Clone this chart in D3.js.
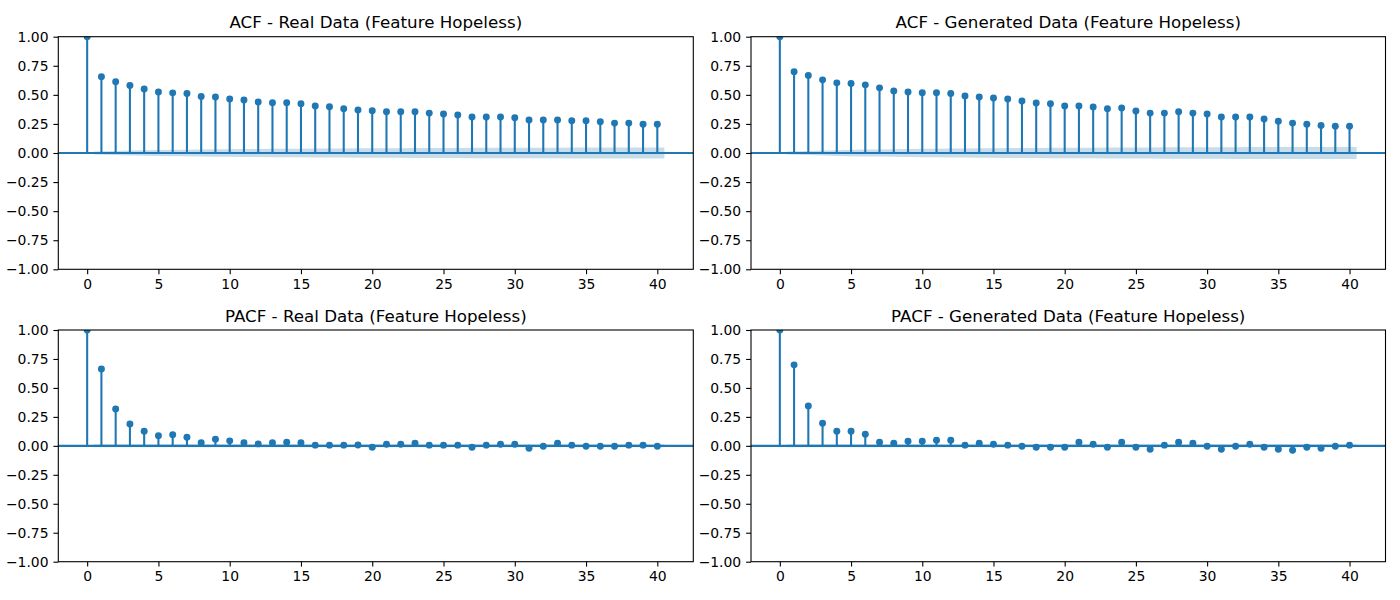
<!DOCTYPE html>
<html>
<head>
<meta charset="utf-8">
<script src="https://cdn.jsdelivr.net/npm/d3@7"></script>
<style>
  body { margin: 0; background: #fff; }
  text { font-family: "DejaVu Sans", sans-serif; }
</style>
</head>
<body>
<script>
// lags 0..40
var lags = d3.range(0, 41);

// values
var acfReal = [1.000, 0.655, 0.612, 0.580, 0.551, 0.525, 0.517, 0.511, 0.485, 0.482,
  0.465, 0.456, 0.439, 0.433, 0.433, 0.424, 0.404, 0.398, 0.381, 0.370,
  0.364, 0.355, 0.355, 0.355, 0.343, 0.335, 0.326, 0.309, 0.309, 0.309,
  0.303, 0.283, 0.283, 0.283, 0.277, 0.277, 0.268, 0.257, 0.257, 0.248, 0.248];

var acfGen = [1.000, 0.699, 0.667, 0.629, 0.603, 0.597, 0.586, 0.560, 0.534, 0.525,
  0.519, 0.519, 0.511, 0.491, 0.482, 0.473, 0.465, 0.447, 0.430, 0.424,
  0.404, 0.404, 0.395, 0.381, 0.387, 0.361, 0.343, 0.343, 0.355, 0.343,
  0.335, 0.309, 0.309, 0.309, 0.292, 0.274, 0.257, 0.248, 0.237, 0.231, 0.231];

var pacfReal = [1.000, 0.664, 0.318, 0.188, 0.127, 0.087, 0.095, 0.075, 0.026, 0.058,
  0.043, 0.026, 0.017, 0.026, 0.032, 0.026, 0.006, 0.006, 0.006, 0.008,
  -0.012, 0.014, 0.014, 0.023, 0.006, 0.006, 0.006, -0.012, 0.006, 0.014,
  0.014, -0.020, -0.003, 0.023, 0.006, -0.003, -0.003, -0.003, 0.006, 0.006, -0.003];

var pacfGen = [1.000, 0.699, 0.344, 0.196, 0.127, 0.127, 0.101, 0.032, 0.023, 0.040,
  0.040, 0.049, 0.049, 0.006, 0.023, 0.014, 0.006, -0.003, -0.012, -0.012,
  -0.012, 0.032, 0.014, -0.012, 0.032, -0.012, -0.029, 0.006, 0.032, 0.023,
  -0.003, -0.029, -0.003, 0.014, -0.012, -0.029, -0.038, -0.012, -0.020, -0.003, 0.006];

var titles = ["ACF - Real Data (Feature Hopeless)", "ACF - Generated Data (Feature Hopeless)",
  "PACF - Real Data (Feature Hopeless)", "PACF - Generated Data (Feature Hopeless)"];

var xTicks = [0, 5, 10, 15, 20, 25, 30, 35, 40];
var yTicks = [-1, -0.75, -0.5, -0.25, 0, 0.25, 0.5, 0.75, 1];

// sample size used for the 95% bands
var nObs = 23000;
var zCrit = 1.96;

// Bartlett band for acf, constant band for pacf
function acfBand(r) {
  var out = [], s = 0;
  for (var k = 1; k < r.length; k++) {
    out.push(zCrit * Math.sqrt((1 + 2 * s) / nObs));
    s += r[k] * r[k];
  }
  return out;
}
function pacfBand(r) {
  return r.slice(1).map(function() { return zCrit * Math.sqrt(1 / nObs); });
}

var C0 = "#1f77b4";

var svg = d3.select("body").append("svg")
  .attr("width", 1400)
  .attr("height", 600)
  .style("background", "#fff");

var panels = [
  { vals: acfReal,  band: acfBand(acfReal),   left: 58.3, right: 693.3,  top: 36.7, bottom: 269.3, title: titles[0] },
  { vals: acfGen,   band: acfBand(acfGen),    left: 751,  right: 1385.5, top: 36.7, bottom: 269.3, title: titles[1] },
  { vals: pacfReal, band: pacfBand(pacfReal), left: 58.3, right: 693.3,  top: 330,  bottom: 561.7, title: titles[2] },
  { vals: pacfGen,  band: pacfBand(pacfGen),  left: 751,  right: 1385.5, top: 330,  bottom: 561.7, title: titles[3] }
];

panels.forEach(function(p, i) {
  var x = d3.scaleLinear().domain([-2.025, 42.525]).range([p.left, p.right]);
  var y = d3.scaleLinear().domain([-1, 1]).range([p.bottom, p.top]);

  var clipId = "clip" + i;
  svg.append("clipPath").attr("id", clipId)
    .append("rect")
    .attr("x", p.left).attr("y", p.top)
    .attr("width", p.right - p.left).attr("height", p.bottom - p.top);

  var g = svg.append("g").attr("clip-path", "url(#" + clipId + ")");

  // confidence band (lag 0 left out, ends pushed out by half a lag)
  var bandPts = p.band.map(function(b, j) {
    var lag = lags[j + 1];
    if (j === 0) lag -= 0.5;
    if (j === p.band.length - 1) lag += 0.5;
    return { lag: lag, b: b };
  });
  g.append("path")
    .datum(bandPts)
    .attr("fill", C0)
    .attr("fill-opacity", 0.25)
    .attr("d", d3.area()
      .x(function(d) { return x(d.lag); })
      .y0(function(d) { return y(-d.b); })
      .y1(function(d) { return y(d.b); }));

  // stems
  g.selectAll("line.stem")
    .data(p.vals)
    .join("line")
    .attr("class", "stem")
    .attr("x1", function(d, j) { return x(lags[j]); })
    .attr("x2", function(d, j) { return x(lags[j]); })
    .attr("y1", y(0))
    .attr("y2", function(d) { return y(d); })
    .attr("stroke", C0)
    .attr("stroke-width", 2.08);

  // zero line
  g.append("line")
    .attr("x1", p.left).attr("x2", p.right)
    .attr("y1", y(0)).attr("y2", y(0))
    .attr("stroke", C0)
    .attr("stroke-width", 2.08);

  // markers
  g.selectAll("circle")
    .data(p.vals)
    .join("circle")
    .attr("cx", function(d, j) { return x(lags[j]); })
    .attr("cy", function(d) { return y(d); })
    .attr("r", 3.47)
    .attr("fill", C0);

  // axes
  var xAxis = svg.append("g")
    .attr("transform", "translate(0," + p.bottom + ")")
    .call(d3.axisBottom(x).tickValues(xTicks).tickSize(4.9).tickPadding(4.9).tickFormat(d3.format("d")));
  var yAxis = svg.append("g")
    .attr("transform", "translate(" + p.left + ",0)")
    .call(d3.axisLeft(y).tickValues(yTicks).tickSize(4.9).tickPadding(4.9)
      .tickFormat(function(d) { return d3.format(".2f")(d).replace("-", "\u2212"); }));
  [xAxis, yAxis].forEach(function(a) {
    a.select(".domain").remove();
    a.selectAll("line").attr("stroke", "#000").attr("stroke-width", 1.1);
    a.selectAll("text")
      .attr("fill", "#000")
      .style("font-size", "13.9px")
      .style("font-family", "'DejaVu Sans', sans-serif");
  });

  // spines
  svg.append("rect")
    .attr("x", p.left).attr("y", p.top)
    .attr("width", p.right - p.left).attr("height", p.bottom - p.top)
    .attr("fill", "none")
    .attr("stroke", "#000")
    .attr("stroke-width", 1.1);

  svg.append("text")
    .attr("x", (p.left + p.right) / 2)
    .attr("y", p.top - 8.3)
    .attr("text-anchor", "middle")
    .style("font-size", "16.7px")
    .text(p.title);
});
</script>
</body>
</html>
